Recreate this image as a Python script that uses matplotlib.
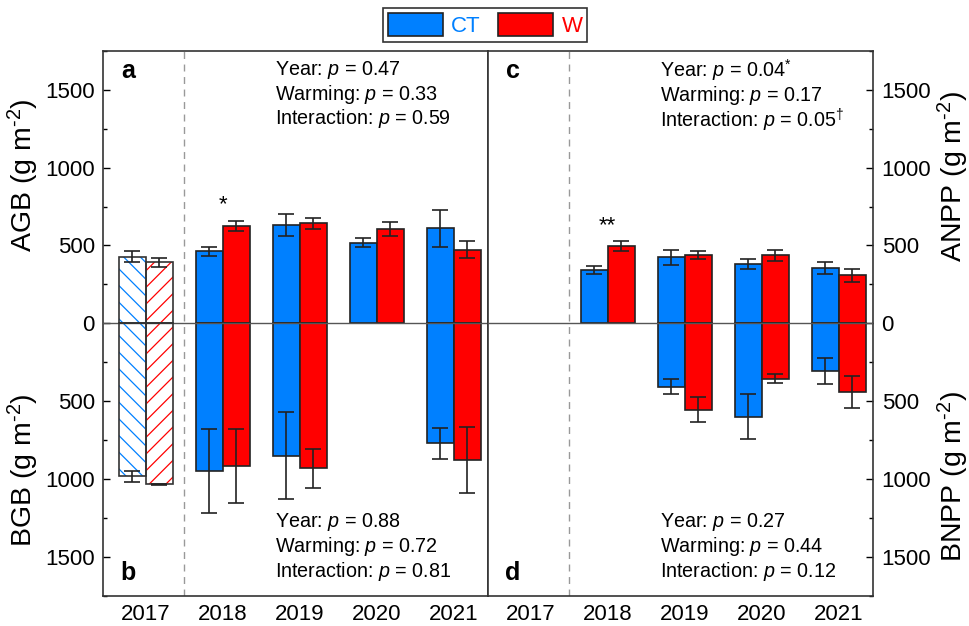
import numpy as np
import matplotlib
matplotlib.use("Agg")
import matplotlib.pyplot as plt
from matplotlib.patches import Patch
from matplotlib.ticker import MultipleLocator, FuncFormatter

plt.rcParams['font.family'] = ['Liberation Sans', 'DejaVu Sans']
plt.rcParams['mathtext.fontset'] = 'custom'
plt.rcParams['mathtext.rm'] = 'Liberation Sans'
plt.rcParams['mathtext.it'] = 'Liberation Sans:italic'
plt.rcParams['mathtext.bf'] = 'Liberation Sans:bold'
plt.rcParams['hatch.linewidth'] = 0.9

years = ['2017', '2018', '2019', '2020', '2021']
nan = np.nan

# Above-ground biomass (positive) and below-ground biomass (drawn downward)
agb_ct = [427, 463, 631, 517, 609]
agb_ct_se = [36, 30, 70, 28, 118]
agb_w = [392, 626, 641, 605, 474]
agb_w_se = [28, 30, 37, 47, 52]
bgb_ct = [982, 946, 849, nan, 770]
bgb_ct_se = [37, 270, 278, nan, 100]
bgb_w = [1034, 914, 929, nan, 877]
bgb_w_se = [2, 236, 125, nan, 215]

# Net primary productivity
anpp_ct = [nan, 341, 423, 380, 356]
anpp_ct_se = [nan, 24, 49, 32, 39]
anpp_w = [nan, 497, 440, 436, 309]
anpp_w_se = [nan, 30, 26, 38, 43]
bnpp_ct = [nan, nan, 406, 599, 305]
bnpp_ct_se = [nan, nan, 47, 146, 82]
bnpp_w = [nan, nan, 554, 354, 440]
bnpp_w_se = [nan, nan, 80, 27, 104]

stats_a = ["0.47", "0.33", "0.59"]
stats_b = ["0.88", "0.72", "0.81"]
stats_c = ["0.04$^{*}$", "0.17", "0.05$^{†}$"]
stats_d = ["0.27", "0.44", "0.12"]

C_CT = '#0080ff'
C_W = '#ff0000'
EDGE = '#222222'
W = 0.35
HATCHED_YEARS = {0}

fig = plt.figure(figsize=(9.69, 6.26), dpi=100)
ax1 = fig.add_axes([0.1066, 0.0479, 0.3973, 0.8711])
ax2 = fig.add_axes([0.5039, 0.0479, 0.3973, 0.8711])

x = np.arange(len(years))


def draw_series(ax, vals, errs, offset, color, hatch, sign):
    for i, (v, e) in enumerate(zip(vals, errs)):
        if np.isnan(v):
            continue
        xi = x[i] + offset
        h = sign * v
        if i in HATCHED_YEARS:
            ax.bar(xi, h, W, color='white', edgecolor=color, hatch=hatch,
                   linewidth=0, zorder=2)
            ax.bar(xi, h, W, fill=False, edgecolor='#333333', linewidth=1.2,
                   zorder=3)
        else:
            ax.bar(xi, h, W, color=color, edgecolor=EDGE, linewidth=1.2,
                   zorder=2)
        ax.errorbar(xi, h, yerr=e, fmt='none', ecolor=EDGE, elinewidth=1.2,
                    capsize=6, capthick=1.2, zorder=4)


def setup(ax, side):
    ax.set_xlim(-0.55, 4.45)
    ax.set_ylim(-1750, 1750)
    ax.set_xticks(x)
    ax.set_xticklabels(years)
    ax.tick_params(axis='x', length=0, pad=6, labelsize=16)
    ax.yaxis.set_major_locator(MultipleLocator(500))
    ax.yaxis.set_minor_locator(MultipleLocator(250))
    ax.yaxis.set_major_formatter(FuncFormatter(lambda v, p: f"{abs(v):.0f}"))
    if side == 'left':
        ax.tick_params(axis='y', which='both', direction='in', left=True,
                       right=False, labelleft=True, labelright=False,
                       labelsize=16, pad=6)
    else:
        ax.tick_params(axis='y', which='both', direction='in', left=False,
                       right=True, labelleft=False, labelright=True,
                       labelsize=16, pad=6)
    ax.tick_params(axis='y', which='major', length=5, width=1)
    ax.tick_params(axis='y', which='minor', length=3, width=1)
    for s in ax.spines.values():
        s.set_color('#333333')
        s.set_linewidth(1.2)
    ax.axhline(0, color='#555555', linewidth=1.0, zorder=3)
    ax.axvline(0.5, color='#999999', linewidth=1.0, linestyle=(0, (5, 4)),
               zorder=1)


def pvals(ax, vals, ys):
    names = ["Year", "Warming", "Interaction"]
    for n, v, yy in zip(names, vals, ys):
        ax.text(1.68, yy, f"{n}: $p$ = {v}", fontsize=14.2, ha='left',
                va='center', zorder=5)


setup(ax1, 'left')
setup(ax2, 'right')

draw_series(ax1, agb_ct, agb_ct_se, -W / 2, C_CT, '\\\\', 1)
draw_series(ax1, agb_w, agb_w_se, W / 2, C_W, '//', 1)
draw_series(ax1, bgb_ct, bgb_ct_se, -W / 2, C_CT, '\\\\', -1)
draw_series(ax1, bgb_w, bgb_w_se, W / 2, C_W, '//', -1)

draw_series(ax2, anpp_ct, anpp_ct_se, -W / 2, C_CT, '\\\\', 1)
draw_series(ax2, anpp_w, anpp_w_se, W / 2, C_W, '//', 1)
draw_series(ax2, bnpp_ct, bnpp_ct_se, -W / 2, C_CT, '\\\\', -1)
draw_series(ax2, bnpp_w, bnpp_w_se, W / 2, C_W, '//', -1)

pvals(ax1, stats_a, [1628, 1472, 1317])
pvals(ax1, stats_b, [-1272, -1433, -1590])
pvals(ax2, stats_c, [1628, 1465, 1300])
pvals(ax2, stats_d, [-1272, -1433, -1590])

for ax, top, bot in [(ax1, 'a', 'b'), (ax2, 'c', 'd')]:
    ax.text(-0.229, 1617, top, fontsize=18, fontweight='bold', ha='center',
            va='center')
    ax.text(-0.229, -1601, bot, fontsize=18, fontweight='bold', ha='center',
            va='center')

# significance marks for 2018
ax1.text(1, 760, '*', fontsize=16, ha='center', va='center')
ax2.text(1, 630, '**', fontsize=16, ha='center', va='center')

unit = ' (g m$^{\u2010 2}$)'
ylab = dict(fontsize=20.5, rotation=90, ha='center', va='center')
fig.text(23 / 969, 1 - 175 / 626, 'AGB' + unit, **ylab)
fig.text(23 / 969, 1 - 470 / 626, 'BGB' + unit, **ylab)
fig.text(953 / 969, 1 - 176 / 626, 'ANPP' + unit, **ylab)
fig.text(953 / 969, 1 - 476 / 626, 'BNPP' + unit, **ylab)

handles = [Patch(facecolor=C_CT, edgecolor=EDGE, linewidth=1.2),
           Patch(facecolor=C_W, edgecolor=EDGE, linewidth=1.2)]
leg = fig.legend(handles, ['CT', 'W'], loc='center',
                 bbox_to_anchor=(485 / 969, 1 - 24.8 / 626), ncol=2,
                 fontsize=16, handlelength=2.5, handleheight=1.2,
                 handletextpad=0.37, columnspacing=0.75, borderpad=0.22,
                 fancybox=False, framealpha=1, edgecolor='#333333')
leg.get_frame().set_linewidth(1.2)
for t, c in zip(leg.get_texts(), [C_CT, C_W]):
    t.set_color(c)

fig.savefig('out.png', dpi=100)
